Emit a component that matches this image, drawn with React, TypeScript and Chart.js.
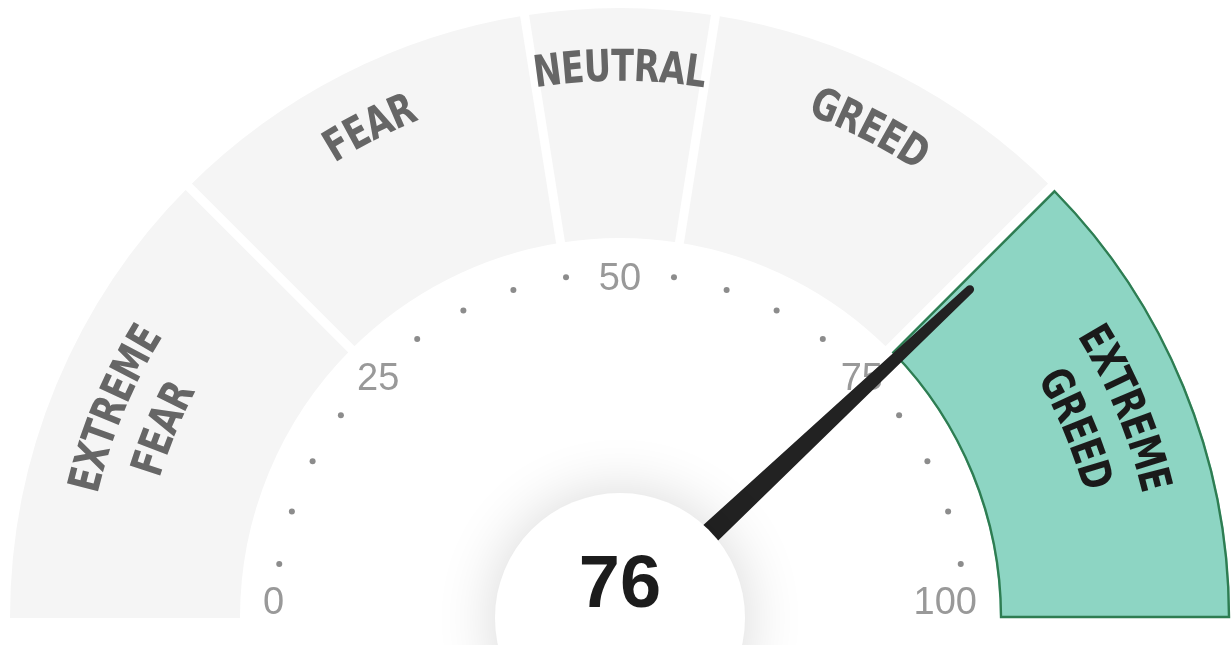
import React, { useEffect, useRef } from 'react';
import { Chart, registerables } from 'chart.js';

Chart.register(...registerables);

// ---- data ----
const SEGMENT_NAMES = ['Extreme Fear', 'Fear', 'Neutral', 'Greed', 'Extreme Greed'];
const SEGMENT_LABEL_LINES = [['EXTREME', 'FEAR'], ['FEAR'], ['NEUTRAL'], ['GREED'], ['EXTREME', 'GREED']];
const SEGMENT_SIZES = [25, 20, 10, 20, 25];
const MAJOR_TICKS = [0, 25, 50, 75, 100];
const MINOR_TICKS = [5, 10, 15, 20, 30, 35, 40, 45, 55, 60, 65, 70, 80, 85, 90, 95];
const CURRENT_VALUE = 76;
const SCALE_MAX = 100;

// ---- styles ----
const GRAY_FILL = '#f5f5f5';
const ACTIVE_FILL = 'rgb(141,213,195)';
const ACTIVE_BORDER = 'rgb(46,125,82)';
const LABEL_COLOR = '#666666';
const ACTIVE_LABEL_COLOR = '#1a1a1a';
const TICK_COLOR = '#999999';
const DOT_COLOR = '#8c8c8c';
const GAP = 9;
const LABEL_FONT_SIZE = 44;
const LABEL_FONT = `bold ${LABEL_FONT_SIZE}px "DejaVu Sans Condensed", "Liberation Sans Narrow", "DejaVu Sans", sans-serif`;
const NEUTRAL_TARGET_WIDTH = 174;
const TICK_FONT = '38px "Liberation Sans", Arial, sans-serif';
const VALUE_FONT = 'bold 74px "Liberation Sans", Arial, sans-serif';

function activeIndex(): number {
  let acc = 0;
  for (let i = 0; i < SEGMENT_SIZES.length; i++) {
    acc += SEGMENT_SIZES[i];
    if (CURRENT_VALUE < acc || i === SEGMENT_SIZES.length - 1) return i;
  }
  return SEGMENT_SIZES.length - 1;
}

const gaugePlugin = {
  id: 'gaugeDecor',
  afterDatasetsDraw(chart: any) {
    const meta = chart.getDatasetMeta(0);
    const arcs = meta.data as any[];
    if (!arcs || !arcs.length) return;
    const ctx: CanvasRenderingContext2D = chart.ctx;
    const cx = arcs[0].x;
    const cy = arcs[0].y;
    const R = arcs[0].outerRadius;
    const r = arcs[0].innerRadius;
    const a0 = arcs[0].startAngle;
    const a1 = arcs[arcs.length - 1].endAngle;
    const ang = (v: number) => a0 + ((a1 - a0) * v) / SCALE_MAX;
    const act = activeIndex();

    ctx.save();
    // gaps between segments
    ctx.strokeStyle = '#ffffff';
    ctx.lineWidth = GAP;
    ctx.lineCap = 'butt';
    for (let i = 1; i < arcs.length; i++) {
      const t = arcs[i].startAngle;
      ctx.beginPath();
      ctx.moveTo(cx + (r - 2) * Math.cos(t), cy + (r - 2) * Math.sin(t));
      ctx.lineTo(cx + (R + 2) * Math.cos(t), cy + (R + 2) * Math.sin(t));
      ctx.stroke();
    }

    // outline of active segment
    {
      const el = arcs[act];
      const dS = act === 0 ? 1 : GAP / 2 + 1;
      const dE = act === arcs.length - 1 ? 1 : GAP / 2 + 1;
      const Ro = R - 1;
      const Ri = r + 1;
      const so = el.startAngle + Math.asin(dS / Ro);
      const eo = el.endAngle - Math.asin(dE / Ro);
      const si = el.startAngle + Math.asin(dS / Ri);
      const ei = el.endAngle - Math.asin(dE / Ri);
      ctx.beginPath();
      ctx.arc(cx, cy, Ro, so, eo);
      ctx.lineTo(cx + Ri * Math.cos(ei), cy + Ri * Math.sin(ei));
      ctx.arc(cx, cy, Ri, ei, si, true);
      ctx.closePath();
      ctx.strokeStyle = ACTIVE_BORDER;
      ctx.lineWidth = 2.4;
      ctx.lineJoin = 'miter';
      ctx.stroke();
    }

    // segment labels along the arc
    ctx.font = LABEL_FONT;
    ctx.textAlign = 'center';
    ctx.textBaseline = 'alphabetic';
    const sx = NEUTRAL_TARGET_WIDTH / ctx.measureText('NEUTRAL').width;
    const capH = LABEL_FONT_SIZE * 0.72;
    SEGMENT_LABEL_LINES.forEach((lines, i) => {
      const el = arcs[i];
      const mid = (el.startAngle + el.endAngle) / 2;
      ctx.fillStyle = i === act ? ACTIVE_LABEL_COLOR : LABEL_COLOR;
      lines.forEach((line, k) => {
        const rad = R - 57 - 56 * k;
        const chars = Array.from(line);
        const widths = chars.map((c) => ctx.measureText(c).width * sx);
        const total = widths.reduce((a, b) => a + b, 0);
        let pos = -total / 2;
        chars.forEach((c, j) => {
          const w = widths[j];
          const t = mid + (pos + w / 2) / rad;
          ctx.save();
          ctx.translate(cx + rad * Math.cos(t), cy + rad * Math.sin(t));
          ctx.rotate(t + Math.PI / 2);
          ctx.scale(sx, 1);
          ctx.fillText(c, 0, capH / 2);
          ctx.restore();
          pos += w;
        });
      });
    });

    // minor tick dots
    ctx.fillStyle = DOT_COLOR;
    const dotR = 345;
    MINOR_TICKS.forEach((v) => {
      const t = ang(v);
      ctx.beginPath();
      ctx.arc(cx + dotR * Math.cos(t), cy + dotR * Math.sin(t), 3, 0, Math.PI * 2);
      ctx.fill();
    });

    // major tick labels
    ctx.font = TICK_FONT;
    ctx.fillStyle = TICK_COLOR;
    const tickCap = 38 * 0.716;
    MAJOR_TICKS.forEach((v) => {
      const t = ang(v);
      const c = Math.cos(t);
      const s = Math.sin(t);
      if (Math.abs(c) > 0.99) {
        ctx.textAlign = c < 0 ? 'left' : 'right';
        ctx.fillText(String(v), cx + 357 * c, cy - 18 + tickCap / 2);
      } else {
        ctx.textAlign = 'center';
        ctx.fillText(String(v), cx + 342 * c, cy + 342 * s + tickCap / 2);
      }
    });

    // needle
    {
      const t = ang(CURRENT_VALUE);
      const ux = Math.cos(t);
      const uy = Math.sin(t);
      const nx = -uy;
      const ny = ux;
      const L = 480;
      const b = 13;
      const tw = 4.2;
      const tx = cx + ux * L;
      const ty = cy + uy * L;
      ctx.beginPath();
      ctx.moveTo(cx + nx * b, cy + ny * b);
      ctx.lineTo(tx + nx * tw, ty + ny * tw);
      ctx.arc(tx, ty, tw, Math.atan2(ny, nx), Math.atan2(-ny, -nx), true);
      ctx.lineTo(cx - nx * b, cy - ny * b);
      ctx.closePath();
      ctx.fillStyle = '#222222';
      ctx.fill();
    }

    // center disc with soft glow
    ctx.save();
    ctx.shadowColor = 'rgba(0,0,0,0.16)';
    ctx.shadowBlur = 60;
    ctx.fillStyle = '#ffffff';
    ctx.beginPath();
    ctx.arc(cx, cy, 125, 0, Math.PI * 2);
    ctx.fill();
    ctx.restore();

    // value
    ctx.font = VALUE_FONT;
    ctx.fillStyle = '#1c1c1c';
    ctx.textAlign = 'center';
    ctx.textBaseline = 'alphabetic';
    ctx.fillText(String(CURRENT_VALUE), cx, cy - 11);

    ctx.restore();
  },
};

export default function App() {
  const ref = useRef<HTMLCanvasElement>(null);
  useEffect(() => {
    if (!ref.current) return;
    const act = activeIndex();
    const chart = new Chart(ref.current, {
      type: 'doughnut',
      data: {
        labels: SEGMENT_NAMES,
        datasets: [
          {
            data: SEGMENT_SIZES,
            backgroundColor: SEGMENT_SIZES.map((_, i) => (i === act ? ACTIVE_FILL : GRAY_FILL)),
            borderWidth: 0,
          },
        ],
      },
      options: {
        animation: false,
        responsive: false,
        rotation: -90,
        circumference: 180,
        radius: 610,
        cutout: '62.3%',
        events: [],
        layout: { padding: { left: 9, right: 0, top: 0, bottom: 19 } },
        plugins: { legend: { display: false }, tooltip: { enabled: false } },
      },
      plugins: [gaugePlugin],
    } as any);
    return () => chart.destroy();
  }, []);
  return (
    <div style={{ position: 'fixed', left: 0, top: 0, width: 1231, height: 645, background: '#fff' }}>
      <canvas ref={ref} width={1231} height={645} style={{ display: 'block', width: 1231, height: 645 }} />
    </div>
  );
}
